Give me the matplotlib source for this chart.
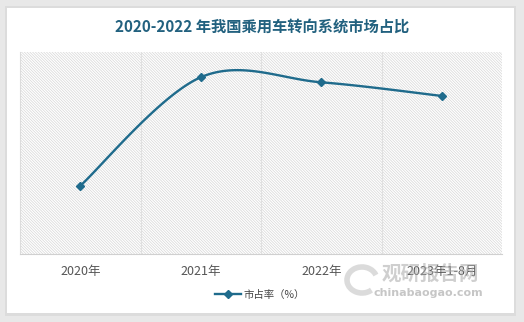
import numpy as np
import matplotlib
matplotlib.use('Agg')
import matplotlib.pyplot as plt
from matplotlib.patches import Rectangle, Arc

plt.rcParams['font.family'] = ['Noto Sans CJK SC', 'DejaVu Sans']

# 数据
years = ['2020年', '2021年', '2022年', '2023年1-8月']
share = [13.5, 35.0, 34.0, 31.3]
series_name = '市占率（%）'
title = '2020-2022 年我国乘用车转向系统市场占比'

LINE_COLOR = '#1f6b8c'


def smooth_curve(xs, ys, n=40):
    """Catmull-Rom 风格的平滑曲线 (类似 Excel 平滑线)"""
    xs = np.asarray(xs, float)
    ys = np.asarray(ys, float)
    px = np.concatenate([[xs[0]], xs, [xs[-1]]])
    py = np.concatenate([[ys[0]], ys, [ys[-1]]])
    out_x, out_y = [], []
    t = np.linspace(0, 1, n)
    for i in range(1, len(px) - 2):
        p0x, p1x, p2x, p3x = px[i - 1], px[i], px[i + 1], px[i + 2]
        p0y, p1y, p2y, p3y = py[i - 1], py[i], py[i + 1], py[i + 2]
        c1x, c1y = p1x + (p2x - p0x) / 6, p1y + (p2y - p0y) / 6
        c2x, c2y = p2x - (p3x - p1x) / 6, p2y - (p3y - p1y) / 6
        bx = (1 - t) ** 3 * p1x + 3 * t * (1 - t) ** 2 * c1x + 3 * t ** 2 * (1 - t) * c2x + t ** 3 * p2x
        by = (1 - t) ** 3 * p1y + 3 * t * (1 - t) ** 2 * c1y + 3 * t ** 2 * (1 - t) * c2y + t ** 3 * p2y
        out_x.extend(bx)
        out_y.extend(by)
    return np.array(out_x), np.array(out_y)


W, H = 524, 322
fig = plt.figure(figsize=(W / 100, H / 100), dpi=100)
fig.patch.set_facecolor('#e8e8e8')

# 卡片阴影 + 白底
fig.patches.append(Rectangle((5 / W, 6 / H), 511 / W, 310 / H, transform=fig.transFigure,
                             facecolor='#dcdcdc', edgecolor='none', zorder=-3))
fig.patches.append(Rectangle((7 / W, 9 / H), 507 / W, 305 / H, transform=fig.transFigure,
                             facecolor='white', edgecolor='none', zorder=-2))

ax = fig.add_axes([20 / W, 1 - 254 / H, 482 / W, 202 / H])
ax.set_facecolor('none')
plt.rcParams['hatch.linewidth'] = 0.5
plt.rcParams['hatch.color'] = '#d6d6d6'
ax.add_patch(Rectangle((0, 0), 1, 1, transform=ax.transAxes, facecolor='white',
                       edgecolor='#d6d6d6', hatch='\\' * 12, linewidth=0, zorder=0))

x = np.arange(len(years))
sx, sy = smooth_curve(x, share)
ax.plot(sx, sy, color=LINE_COLOR, linewidth=1.7, zorder=3)
ax.plot(x, share, linestyle='none', marker='D', markersize=4.5, color=LINE_COLOR, zorder=4)

ax.set_xlim(-0.5, len(years) - 0.5)
ax.set_ylim(0, 40)
ax.set_yticks([])
ax.set_xticks(x)
ax.set_xticklabels(years, fontsize=9, color='#555555')
ax.tick_params(axis='x', length=0, pad=8)
for b in [0.5, 1.5, 2.5]:
    ax.axvline(b, color='#e0e0e0', linewidth=0.8, zorder=1)
for s in ['top', 'right']:
    ax.spines[s].set_visible(False)
ax.spines['left'].set_color('#dcdcdc')
ax.spines['bottom'].set_color('#d0d0d0')

fig.text(0.5, 1 - 27 / H, title, ha='center', va='center', fontsize=11,
         fontweight='bold', color='#22617f')

# 图例
ax.plot([], [], color=LINE_COLOR, linewidth=1.7, marker='D', markersize=4.5, label=series_name)
fig.legend(loc='center', bbox_to_anchor=(260 / W, 1 - 295 / H), frameon=False,
           fontsize=7.5, handlelength=2.5, handletextpad=0.3, labelcolor='#444444')

# 水印
fig.patches.append(Arc((362 / W, 1 - 280 / H), 30 / W, 26 / H, theta1=30, theta2=300,
                       transform=fig.transFigure, color='#cccccc', linewidth=4, alpha=0.7))
fig.text(430 / W, 1 - 274 / H, '观研报告网', ha='center', va='center', fontsize=14,
         fontweight='bold', color='#a8a8a8', alpha=0.55)
fig.text(428 / W, 1 - 293 / H, 'chinabaogao.com', ha='center', va='center', fontsize=8,
         fontweight='bold', color='#a8a8a8', alpha=0.65, family='DejaVu Sans')

fig.savefig('out.png', dpi=100, facecolor=fig.get_facecolor())
